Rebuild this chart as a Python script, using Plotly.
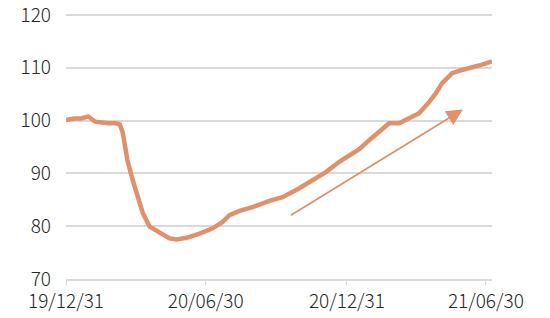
import plotly.graph_objects as go

dates = [
    "2019-12-31", "2020-01-11", "2020-01-20", "2020-01-29", "2020-02-07", "2020-02-14",
    "2020-02-24", "2020-03-05", "2020-03-10", "2020-03-14", "2020-03-17", "2020-03-20",
    "2020-03-27", "2020-04-02", "2020-04-09", "2020-04-18", "2020-05-01", "2020-05-14",
    "2020-05-23", "2020-06-05", "2020-06-22", "2020-07-09", "2020-07-22", "2020-07-31",
    "2020-08-13", "2020-08-30", "2020-09-21", "2020-10-08", "2020-10-30", "2020-11-16",
    "2020-12-04", "2020-12-21", "2021-01-07", "2021-01-16", "2021-01-29", "2021-02-11",
    "2021-02-24", "2021-03-09", "2021-03-22", "2021-04-04", "2021-04-17", "2021-04-26",
    "2021-05-04", "2021-05-17", "2021-05-30", "2021-06-12", "2021-06-25", "2021-07-08",
]
values = [
    100.1, 100.4, 100.4, 100.8, 99.8, 99.6,
    99.5, 99.5, 99.3, 97.7, 95.4, 92.5,
    88.7, 85.5, 82.5, 79.9, 78.7, 77.7,
    77.5, 77.8, 78.6, 79.6, 80.8, 82.1,
    82.9, 83.6, 84.8, 85.5, 87.2, 88.7,
    90.3, 92.2, 93.8, 94.6, 96.3, 97.9,
    99.5, 99.5, 100.5, 101.4, 103.5, 105.2,
    107.1, 109.0, 109.6, 110.0, 110.6, 111.2,
]

x_tick_vals = ["2019-12-31", "2020-06-30", "2020-12-31", "2021-06-30"]
x_tick_text = ["19/12/31", "20/06/30", "20/12/31", "21/06/30"]
y_tick_vals = [70, 80, 90, 100, 110, 120]

arrow_tail = ("2020-10-17", 81.9)
arrow_head = ("2021-05-31", 102.1)

LINE_COLOR = "#E0906A"
GRID = "#D9D9D9"
FONT = "Noto Sans CJK JP"
TEXT = "#262626"

fig = go.Figure()
fig.add_trace(go.Scatter(
    x=dates, y=values, mode="lines",
    line=dict(color=LINE_COLOR, width=4.5),
    hoverinfo="skip", showlegend=False,
))

fig.add_annotation(
    x=arrow_head[0], y=arrow_head[1], ax=arrow_tail[0], ay=arrow_tail[1],
    xref="x", yref="y", axref="x", ayref="y",
    text="", showarrow=True, arrowhead=2, arrowsize=1.8, arrowwidth=1.8,
    arrowcolor=LINE_COLOR, standoff=0, startstandoff=0,
)

fig.update_layout(
    width=550, height=318,
    margin=dict(l=66, r=58, t=14, b=39, autoexpand=False),
    paper_bgcolor="white", plot_bgcolor="white",
    font=dict(family=FONT, size=19, color=TEXT),
)
fig.update_xaxes(
    type="date", range=["2019-12-31", "2021-07-08"], automargin=False,
    tickmode="array", tickvals=x_tick_vals, ticktext=x_tick_text,
    showgrid=False, showline=True, linecolor=GRID, linewidth=1.5,
    ticks="outside", ticklen=4, tickcolor=GRID, tickwidth=1,
    tickfont=dict(family=FONT, size=19, color=TEXT, weight=300),
    ticklabeloverflow="allow",
    zeroline=False,
)
fig.update_yaxes(
    range=[70, 120.2], tickmode="array", tickvals=y_tick_vals, automargin=False,
    showgrid=True, gridcolor=GRID, gridwidth=1.5,
    showline=False, zeroline=False, ticks="",
    ticklabelstandoff=14, ticklabeloverflow="allow",
    tickfont=dict(family=FONT, size=19, color=TEXT, weight=300),
)

fig.write_html("out.html")
